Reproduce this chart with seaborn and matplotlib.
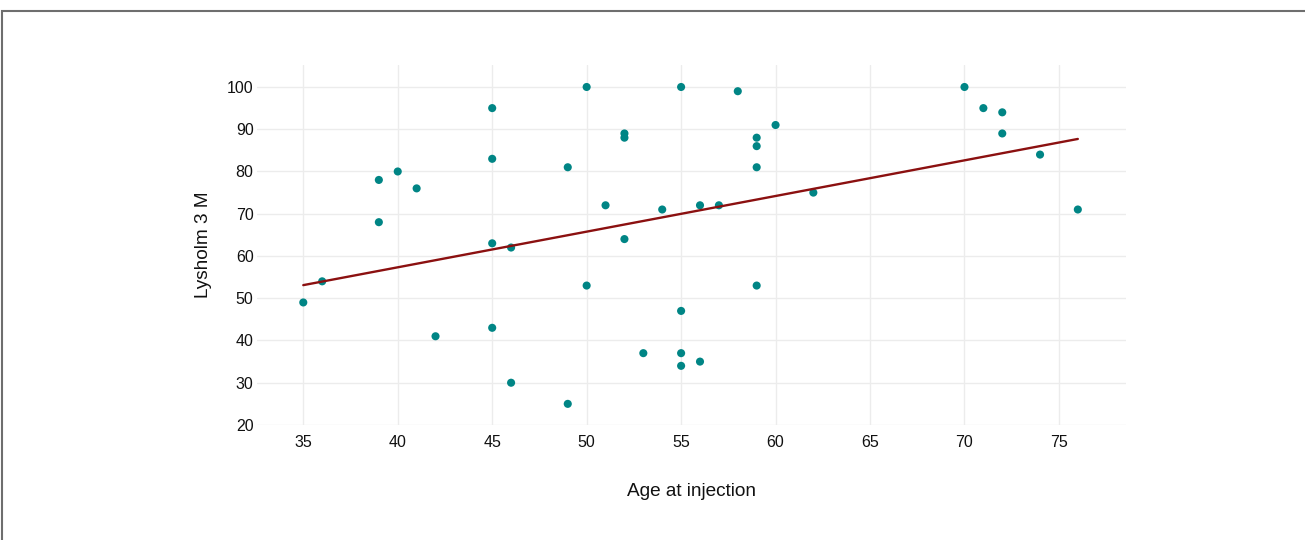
import matplotlib
matplotlib.use("Agg")
import matplotlib.pyplot as plt
import seaborn as sns
import pandas as pd
from matplotlib.patches import Rectangle

age = [35, 36, 39, 39, 40, 41, 42, 45, 45, 45, 45, 46, 46, 49, 49, 50, 50, 51,
       52, 52, 52, 53, 54, 55, 55, 55, 55, 56, 56, 57, 58, 59, 59, 59, 59, 60,
       62, 70, 71, 72, 72, 74, 76]
lysholm = [49, 54, 78, 68, 80, 76, 41, 95, 83, 63, 43, 62, 30, 81, 25, 100, 53, 72,
           89, 88, 64, 37, 71, 100, 47, 37, 34, 72, 35, 72, 99, 88, 86, 81, 53, 91,
           75, 100, 95, 94, 89, 84, 71]
trend_age = [35, 76]
trend_score = [53.1, 87.7]
x_ticks = [35, 40, 45, 50, 55, 60, 65, 70, 75]
y_ticks = [20, 30, 40, 50, 60, 70, 80, 90, 100]

df = pd.DataFrame({"Age at injection": age, "Lysholm 3 M": lysholm})
trend = pd.DataFrame({"Age at injection": trend_age, "Lysholm 3 M": trend_score})

sns.set_theme(style="white")
plt.rcParams['font.family'] = ['Liberation Sans', 'DejaVu Sans']

fig = plt.figure(figsize=(13.05, 5.4), dpi=100)
ax = fig.add_axes([257 / 1305, 0.213, 869 / 1305, 0.6666])

sns.scatterplot(data=df, x="Age at injection", y="Lysholm 3 M", ax=ax,
                s=34, color="#008585", edgecolor="none", linewidth=0, zorder=3)
sns.lineplot(data=trend, x="Age at injection", y="Lysholm 3 M", ax=ax,
             color="#8b1010", linewidth=1.7, zorder=4)

ax.set_xlim(32.55, 78.55)
ax.set_ylim(20, 105.2)
ax.set_xticks(x_ticks)
ax.set_yticks(y_ticks)
ax.grid(True, color="#ececec", linewidth=1.0)
ax.set_axisbelow(True)
for s in ax.spines.values():
    s.set_visible(False)
ax.tick_params(axis="both", length=0, labelsize=11.5, colors="#111111")
ax.tick_params(axis="x", pad=7)
ax.tick_params(axis="y", pad=2.5)
ax.set_xlabel("Age at injection", fontsize=13.7, labelpad=24, color="#111111")
ax.set_ylabel("Lysholm 3 M", fontsize=13.7, labelpad=11, color="#111111")

# outer frame (top and left edges visible)
fig.add_artist(Rectangle((2 / 1305, -0.1), 1.2, 1 - 11 / 540 + 0.1,
                         transform=fig.transFigure, fill=False,
                         edgecolor="#6e6e6e", linewidth=1.5))

fig.savefig("out.png", dpi=100)
